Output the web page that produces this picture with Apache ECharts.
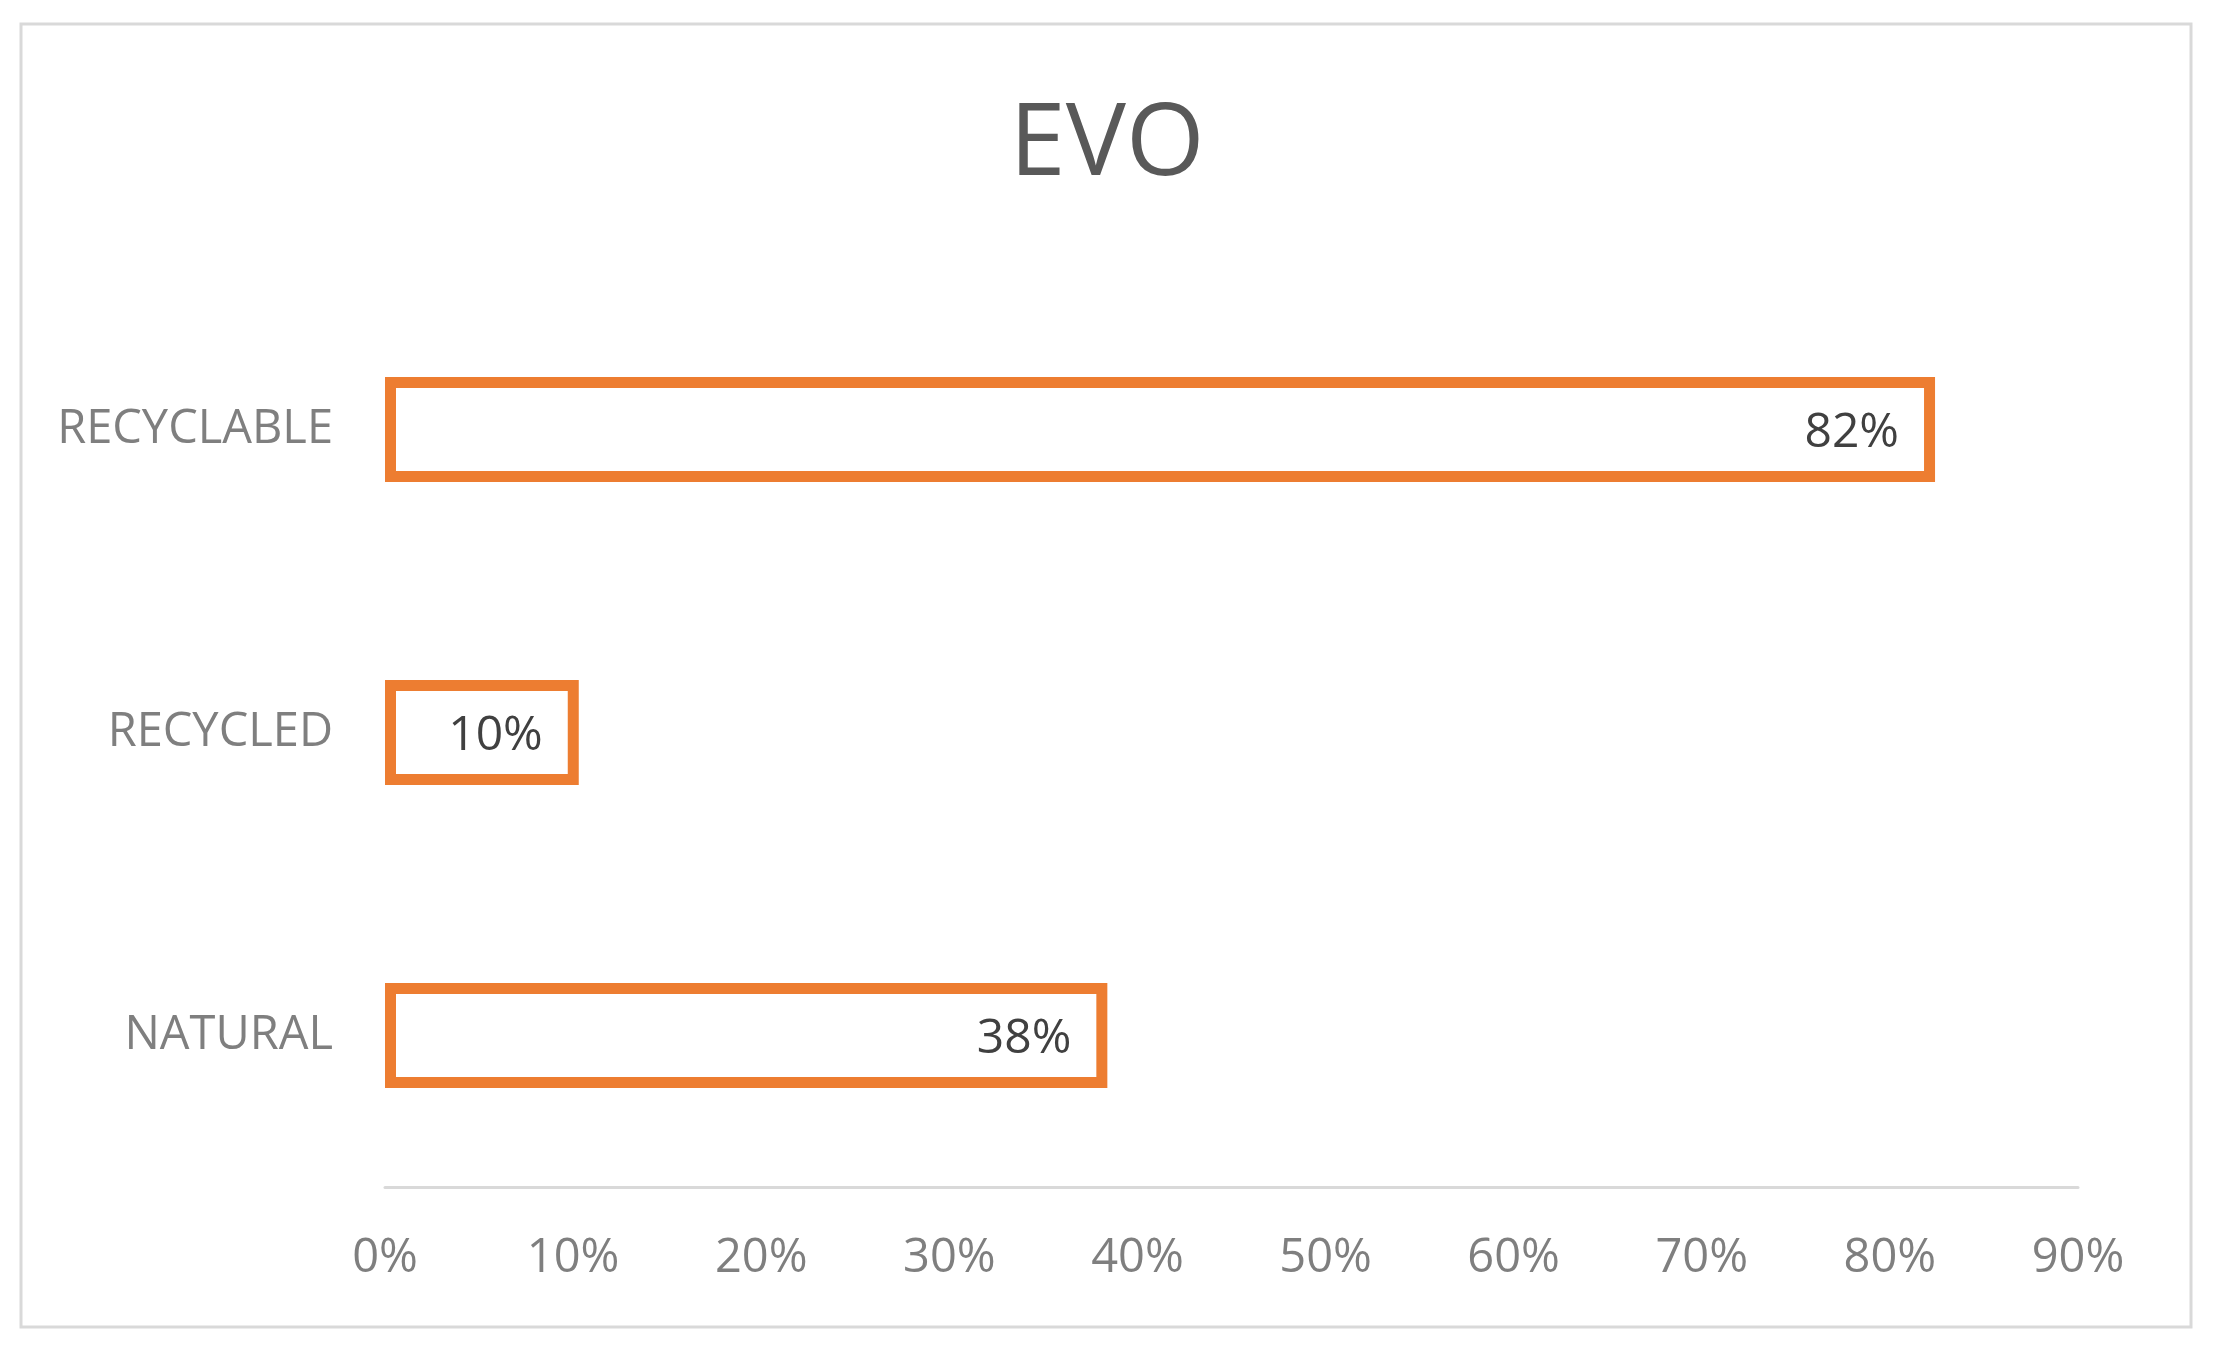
<!DOCTYPE html>
<html>
<head>
<meta charset="utf-8">
<script src="https://cdn.jsdelivr.net/npm/echarts@6/dist/echarts.min.js"></script>
<style>
html,body{margin:0;padding:0;background:#fff;}
#c{width:2214px;height:1352px;}
</style>
</head>
<body>
<div id="c"></div>
<script>
const title = 'EVO';
const categories = ['NATURAL', 'RECYCLED', 'RECYCLABLE'];
const values = [0.384, 0.103, 0.824];
const axisMin = 0, axisMax = 0.9, axisStep = 0.1;

const FONT = '"Open Sans", sans-serif';
const chart = echarts.init(document.getElementById('c'), null, {renderer: 'canvas'});
chart.setOption({
  backgroundColor: '#ffffff',
  animation: false,
  title: {
    text: title,
    left: 'center',
    top: 91,
    textStyle: {fontFamily: FONT, fontSize: 101, fontWeight: 'normal', color: '#595959'}
  },
  graphic: [{
    type: 'rect',
    shape: {x: 21, y: 24, width: 2170, height: 1303},
    style: {fill: 'none', stroke: '#d9d9d9', lineWidth: 3},
    silent: true
  }],
  grid: {left: 385, right: 136, top: 278, bottom: 165, containLabel: false},
  xAxis: {
    type: 'value',
    min: axisMin, max: axisMax, interval: axisStep,
    axisLine: {show: true, lineStyle: {color: '#d9d9d9', width: 3}},
    axisTick: {show: false},
    splitLine: {show: false},
    axisLabel: {
      margin: 48,
      fontFamily: FONT, fontSize: 47, color: '#7f7f7f',
      formatter: v => Math.round(v * 100) + '%'
    }
  },
  yAxis: {
    type: 'category',
    data: categories,
    axisLine: {show: false},
    axisTick: {show: false},
    splitLine: {show: false},
    axisLabel: {margin: 52, fontFamily: FONT, fontSize: 47, color: '#7f7f7f'}
  },
  series: [{
    type: 'bar',
    data: values,
    barWidth: 105,
    itemStyle: {color: '#ffffff', borderColor: '#ED7D31', borderWidth: 11},
    label: {
      show: true,
      position: 'insideRight',
      distance: 36,
      offset: [0, 4],
      fontFamily: FONT, fontSize: 48, color: '#404040',
      formatter: p => Math.round(p.value * 100) + '%'
    }
  }]
});
</script>
</body>
</html>
